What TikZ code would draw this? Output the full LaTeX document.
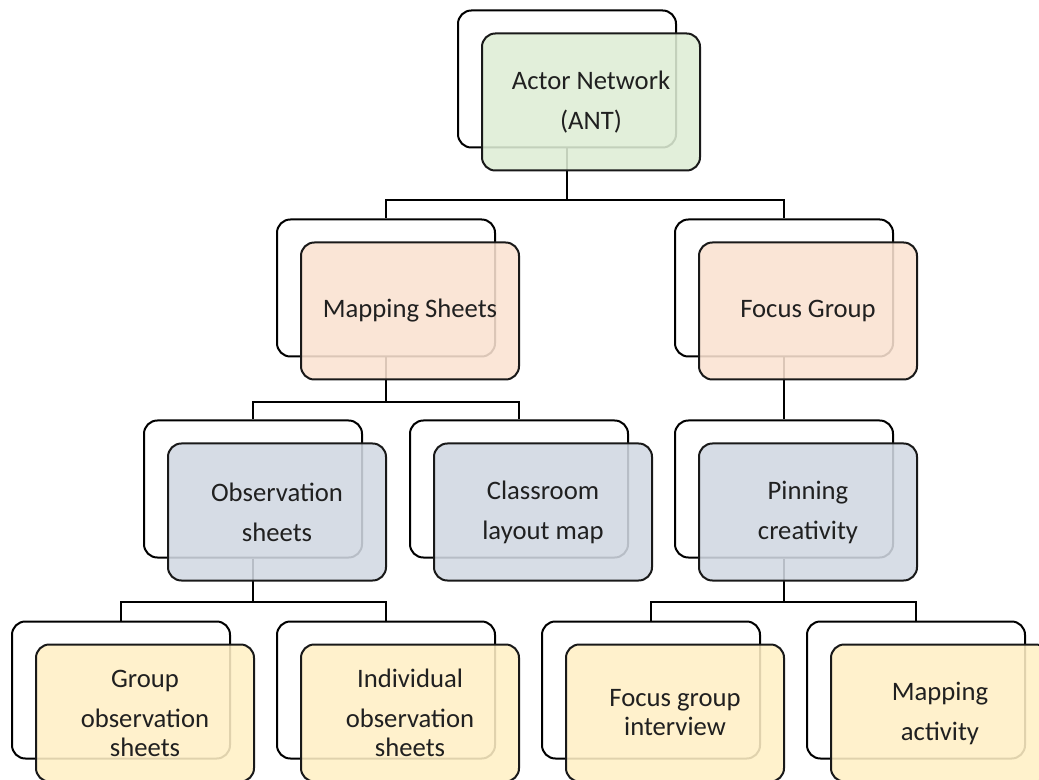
\documentclass[tikz,border=0pt]{standalone}
\usepackage{fontspec}
\setmainfont{Carlito}
\usetikzlibrary{backgrounds}
\definecolor{antgreen}{RGB}{222,237,213}
\definecolor{peach}{RGB}{250,226,209}
\definecolor{slate}{RGB}{209,216,226}
\definecolor{cream}{RGB}{255,240,197}
\definecolor{textgrey}{RGB}{32,32,32}
\begin{document}
\begin{tikzpicture}[x=0.75pt,y=-0.75pt,
  backbox/.style={draw=black, line width=1.5pt, fill=white, rounded corners=10pt,
    minimum width=163.5pt, minimum height=102.75pt, inner sep=0pt},
  frontbox/.style={draw=black!90, line width=1.5pt, fill=#1, fill opacity=0.88,
    draw opacity=1, text opacity=1, rounded corners=10pt,
    minimum width=163.5pt, minimum height=102.75pt, inner sep=0pt,
    align=center, text=textgrey, font=\fontsize{20}{21.75}\selectfont},
  link/.style={draw=black, line width=1.5pt}]
\useasboundingbox (0,0) rectangle (1039,780);
\clip (0,0) rectangle (1039,780);

% rails of the tree connectors
\coordinate (railA) at (0,200);
\coordinate (railB) at (0,402);
\coordinate (railC) at (0,602);

% level 1
\node[backbox] (antB) at (567,79) {};
\node[frontbox=antgreen] (antF) at (591,102) {Actor Network\\[8.25pt](ANT)};

% level 2
\node[backbox] (mapB) at (386,288) {};
\node[frontbox=peach] (mapF) at (410,311) {Mapping Sheets};
\node[backbox] (fgB) at (784,288) {};
\node[frontbox=peach] (fgF) at (808,311) {Focus Group};

% level 3
\node[backbox] (obsB) at (253,489) {};
\node[frontbox=slate] (obsF) at (277,512) {Observation\\[8.25pt]sheets};
\node[backbox] (clsB) at (519,489) {};
\node[frontbox=slate] (clsF) at (543,512) {Classroom\\[8.25pt]layout map};
\node[backbox] (pinB) at (784,489) {};
\node[frontbox=slate] (pinF) at (808,512) {Pinning\\[8.25pt]creativity};

% level 4
\node[backbox] (grpB) at (121,690) {};
\node[frontbox=cream] (grpF) at (145,713) {Group\\[8.25pt]observation\\sheets};
\node[backbox] (indB) at (386,690) {};
\node[frontbox=cream] (indF) at (410,713) {Individual\\[8.25pt]observation\\sheets};
\node[backbox] (fgiB) at (651,690) {};
\node[frontbox=cream] (fgiF) at (675,713) {Focus group\\interview};
\node[backbox] (actB) at (916,690) {};
\node[frontbox=cream] (actF) at (940,713) {Mapping\\[8.25pt]activity};

% connectors run beneath the boxes
\begin{scope}[on background layer]
  \draw[link] (antB.south) -- (antB.south |- railA) -| (mapB.north);
  \draw[link] (antB.south |- railA) -| (fgB.north);
  \draw[link] (mapB.south) -- (mapB.south |- railB) -| (obsB.north);
  \draw[link] (mapB.south |- railB) -| (clsB.north);
  \draw[link] (fgB.south) -- (pinB.north);
  \draw[link] (obsB.south) -- (obsB.south |- railC) -| (grpB.north);
  \draw[link] (obsB.south |- railC) -| (indB.north);
  \draw[link] (pinB.south) -- (pinB.south |- railC) -| (fgiB.north);
  \draw[link] (pinB.south |- railC) -| (actB.north);
\end{scope}
\end{tikzpicture}
\end{document}
